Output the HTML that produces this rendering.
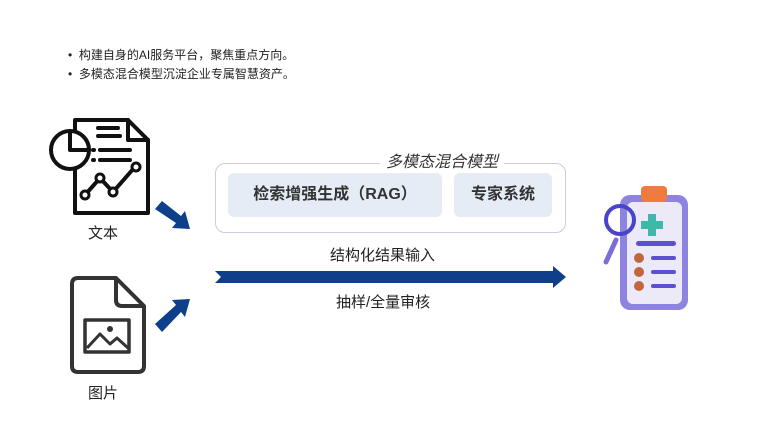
<!DOCTYPE html>
<html><head><meta charset="utf-8"><style>
body{margin:0;width:765px;height:427px;background:#fff;position:relative;overflow:hidden;font-family:"Liberation Sans","Noto Sans CJK SC",sans-serif;color:#222}
.t{position:absolute;white-space:nowrap}
</style></head><body>
<div class="t" style="left:68px;top:46px;font-size:12px;line-height:19px">
• &nbsp;构建自身的AI服务平台，聚焦重点方向。<br>• &nbsp;多模态混合模型沉淀企业专属智慧资产。
</div>
<div style="position:absolute;left:215px;top:163px;width:349px;height:68px;border:1.5px solid #ccd;border-radius:10px"></div>
<div class="t" style="left:380px;top:148px;padding:0 6px;background:#fff;font-size:16px;font-style:italic;color:#333">多模态混合模型</div>
<div class="t" style="left:228px;top:173px;width:214px;height:44px;background:#e6ecf5;border-radius:6px;font-size:16px;font-weight:bold;line-height:44px;text-align:center;color:#333">检索增强生成（RAG）</div>
<div class="t" style="left:454px;top:173px;width:98px;height:44px;background:#e6ecf5;border-radius:6px;font-size:16px;font-weight:bold;line-height:44px;text-align:center;color:#333">专家系统</div>
<div class="t" style="left:330px;top:244px;font-size:15px">结构化结果输入</div>
<div class="t" style="left:336px;top:291px;font-size:15px">抽样/全量审核</div>
<div class="t" style="left:88px;top:222px;font-size:15px">文本</div>
<div class="t" style="left:88px;top:382px;font-size:15px">图片</div>
<svg width="765" height="427" style="position:absolute;left:0;top:0">
<polygon points="215,271 553,271 553,266 566,277 553,288 553,283 215,283 221,277" fill="#0d3f8a"/>
<g fill="#0d3f8a">
<polygon points="155,209 162,201 181,216 185,211 190,229 172,228 176,223"/>
<polygon points="155,324 162,332 181,312 185,317 190,299 172,300 176,305"/>
</g>
<g fill="none" stroke="#111" stroke-width="4" stroke-linejoin="round" stroke-linecap="round">
<path d="M75,120 H128 L148,140 V213 H75 Z"/>
<path d="M128,120 V140 H148"/>
<path d="M98,128 H118 M98,136 H120 M100,150 H130 M100,160 H130 M93,150 h1 M93,160 h1"/>
<circle cx="70" cy="150" r="19" fill="#fff"/>
<path d="M70,131 V150 H89"/>
<path d="M85,195 L100,178 L113,192 L134,168"/>
</g>
<g fill="#fff" stroke="#111" stroke-width="3"><circle cx="85" cy="195" r="4"/><circle cx="100" cy="178" r="4"/><circle cx="113" cy="192" r="4"/><circle cx="136" cy="167" r="4"/></g>
<g fill="none" stroke="#333" stroke-width="4" stroke-linejoin="round">
<path d="M78,278 H116 L144,306 V366 Q144,372 138,372 H78 Q72,372 72,366 V284 Q72,278 78,278 Z"/>
<path d="M116,278 V300 Q116,306 122,306 H144"/>
<rect x="85" y="320" width="44" height="32" stroke-width="3.5"/>
<path d="M87,348 L100,334 L110,344 L117,338 L128,348" stroke-width="3"/>
</g>
<circle cx="110" cy="329" r="3" fill="#333"/>
<rect x="620" y="195" width="68" height="115" rx="10" fill="#8f83e0"/>
<rect x="627" y="202" width="55" height="102" rx="6" fill="#eceaf8"/>
<rect x="641" y="186" width="26" height="16" rx="4" fill="#f07b3f"/>
<path d="M648,214 h8 v7 h7 v8 h-7 v7 h-8 v-7 h-7 v-8 h7z" fill="#3fb8aa"/>
<rect x="636" y="241" width="40" height="5" rx="2.5" fill="#5b50cf"/>
<g fill="#c2663e"><circle cx="639" cy="258" r="5"/><circle cx="639" cy="272" r="5"/><circle cx="639" cy="286" r="5"/></g>
<g fill="#5b50cf"><rect x="651" y="256" width="25" height="4" rx="2"/><rect x="651" y="270" width="25" height="4" rx="2"/><rect x="651" y="284" width="25" height="4" rx="2"/></g>
<line x1="606" y1="262" x2="616" y2="240" stroke="#7b6fd6" stroke-width="5" stroke-linecap="round"/>
<circle cx="620" cy="220" r="14" fill="none" stroke="#4a44c9" stroke-width="4"/>
</svg>
</body></html>
